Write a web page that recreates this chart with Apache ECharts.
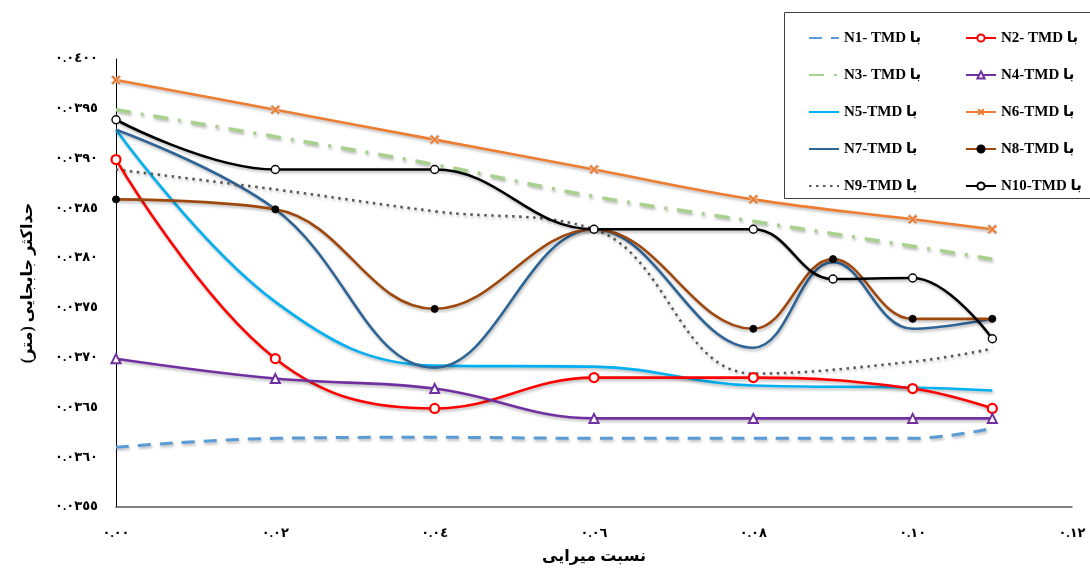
<!DOCTYPE html>
<html>
<head>
<meta charset="utf-8">
<script src="https://cdn.jsdelivr.net/npm/echarts@6/dist/echarts.min.js"></script>
<style>
  html, body { margin: 0; padding: 0; background: #fff; }
  #chart { width: 1090px; height: 570px; }
</style>
</head>
<body>
<div id="chart"></div>
<script>
// Damping ratios (x) used by each series
const dampingRatio = [0, 0.02, 0.04, 0.06, 0.08, 0.10, 0.11];
const dampingRatioFine = [0, 0.02, 0.04, 0.06, 0.08, 0.09, 0.10, 0.11];

// Maximum displacement (m)
const n1 = [0.03610, 0.03619, 0.03620, 0.03619, 0.03619, 0.03619, 0.03629];
const n2 = [0.03899, 0.03699, 0.03649, 0.03680, 0.03680, 0.03669, 0.03649];
const n3 = [0.03949, 0.03922, 0.03894, 0.03862, 0.03837, 0.03812, 0.03799];
const n4 = [0.03699, 0.03679, 0.03669, 0.03639, 0.03639, 0.03639, 0.03639];
const n5 = [0.03929, 0.03756, 0.03692, 0.03691, 0.03672, 0.03670, 0.03667];
const n6 = [0.03979, 0.03949, 0.03919, 0.03889, 0.03859, 0.03839, 0.03829];
const n7 = [0.03929, 0.03849, 0.03690, 0.03829, 0.03710, 0.03796, 0.03729, 0.03739];
const n8 = [0.03859, 0.03849, 0.03749, 0.03829, 0.03729, 0.03799, 0.03739, 0.03739];
const n9 = [0.03889, 0.03869, 0.03847, 0.03829, 0.03684, 0.03696, 0.03709];
const n10 = [0.03939, 0.03889, 0.03889, 0.03829, 0.03829, 0.03779, 0.03780, 0.03719];

const seriesNames = [
  'N1- TMD با', 'N2- TMD با', 'N3- TMD با', 'N4-TMD با', 'N5-TMD با',
  'N6-TMD با', 'N7-TMD با', 'N8-TMD با', 'N9-TMD با', 'N10-TMD با'
];

const xTitle = 'نسبت میرایی';
const yTitle = '\u200Fحداکثر جابجایی (متر)\u200F';

const toArabicDigits = s => s.replace(/\d/g, d => String.fromCharCode(0x0660 + Number(d)));
const pairs = (xs, ys) => ys.map((y, i) => [xs[i], y]);

const FONT = "'Liberation Serif', 'DejaVu Sans', serif";
const crossPath = 'path://M0,2 L2,0 L5,3 L8,0 L10,2 L7,5 L10,8 L8,10 L5,7 L2,10 L0,8 L3,5 Z';
const shadow = { shadowColor: 'rgba(0,0,0,0.28)', shadowBlur: 3, shadowOffsetX: 1, shadowOffsetY: 2 };

function line(name, xs, ys, color, opts) {
  opts = opts || {};
  return Object.assign({
    name: name,
    type: 'line',
    smooth: 0.4,
    data: pairs(xs, ys),
    symbol: 'none',
    lineStyle: Object.assign({ color: color, width: 2.6, type: 'solid' }, shadow, opts.lineStyle || {}),
    itemStyle: Object.assign({ color: color }, opts.itemStyle || {}),
    emphasis: { disabled: true },
    z: opts.z || 2
  }, opts.extra || {});
}

const series = [
  line(seriesNames[0], dampingRatio, n1, '#5B9BD5', { lineStyle: { type: [13, 9], width: 3 } }),
  line(seriesNames[1], dampingRatio, n2, '#FF0000', {
    extra: { symbol: 'circle', symbolSize: 9, showSymbol: true },
    itemStyle: { color: '#fff', borderColor: '#FF0000', borderWidth: 2.2 }, z: 4
  }),
  line(seriesNames[2], dampingRatio, n3, '#A9D18E', { lineStyle: { type: [15, 10, 3, 10], width: 3.5 } }),
  line(seriesNames[3], dampingRatio, n4, '#7030A0', {
    extra: { symbol: 'triangle', symbolSize: 9, showSymbol: true },
    itemStyle: { color: '#fff', borderColor: '#7030A0', borderWidth: 2 }, z: 4
  }),
  line(seriesNames[4], dampingRatio, n5, '#00B0F0'),
  line(seriesNames[5], dampingRatio, n6, '#ED7D31', {
    extra: { symbol: crossPath, symbolSize: 10, showSymbol: true },
    itemStyle: { color: '#ED7D31', borderColor: '#d9d9d9', borderWidth: 1 }, z: 4
  }),
  line(seriesNames[6], dampingRatioFine, n7, '#2E6496'),
  line(seriesNames[7], dampingRatioFine, n8, '#9E480E', {
    extra: { symbol: 'circle', symbolSize: 7, showSymbol: true },
    itemStyle: { color: '#000', borderColor: '#000', borderWidth: 1 }, z: 4
  }),
  line(seriesNames[8], dampingRatio, n9, '#595959', { lineStyle: { type: [2.5, 4.5], width: 2.6 } }),
  line(seriesNames[9], dampingRatioFine, n10, '#000000', {
    extra: { symbol: 'circle', symbolSize: 8, showSymbol: true },
    itemStyle: { color: '#fff', borderColor: '#000', borderWidth: 1.4 }, z: 4
  })
];

// Series drawn without markers show only their line in the legend
const plainLegend = name => ({ name: name, itemStyle: { opacity: 0 } });

const legendText = { fontFamily: FONT, fontWeight: 'bold', fontSize: 15, color: '#000', lineHeight: 18 };
const legendBase = {
  orient: 'vertical',
  top: 24,
  itemWidth: 30,
  itemHeight: 9,
  itemGap: 19,
  textStyle: legendText,
  selectedMode: false
};

const chart = echarts.init(document.getElementById('chart'), null, { renderer: 'canvas' });
chart.setOption({
  animation: false,
  backgroundColor: '#fff',
  grid: { left: 116, right: 18, top: 59, bottom: 61 },
  graphic: [{
    type: 'rect',
    shape: { x: 784.5, y: 12.5, width: 320, height: 186 },
    style: { fill: '#fff', stroke: '#404040', lineWidth: 1 },
    z: 0
  }],
  legend: [
    Object.assign({
      left: 803,
      data: [plainLegend(seriesNames[0]), plainLegend(seriesNames[2]), plainLegend(seriesNames[4]),
             plainLegend(seriesNames[6]), plainLegend(seriesNames[8])]
    }, legendBase),
    Object.assign({
      left: 960,
      data: [seriesNames[1], seriesNames[3],
             { name: seriesNames[5], itemStyle: { color: '#ED7D31', borderWidth: 0 } },
             seriesNames[7], seriesNames[9]]
    }, legendBase)
  ],
  xAxis: {
    type: 'value',
    min: 0,
    max: 0.12,
    interval: 0.02,
    name: xTitle,
    nameLocation: 'middle',
    nameGap: 42,
    nameTextStyle: { fontFamily: FONT, fontWeight: 'bold', fontSize: 16, color: '#000' },
    axisLine: { show: true, lineStyle: { color: '#595959', width: 1.5 } },
    axisTick: { show: false },
    splitLine: { show: false },
    axisLabel: {
      margin: 20,
      fontFamily: FONT, fontWeight: 'bold', fontSize: 13, color: '#000',
      formatter: v => toArabicDigits(v.toFixed(2))
    }
  },
  yAxis: {
    type: 'value',
    min: 0.0355,
    max: 0.0400,
    interval: 0.0005,
    name: yTitle,
    nameLocation: 'middle',
    nameGap: 80,
    nameTextStyle: { fontFamily: FONT, fontWeight: 'bold', fontSize: 16, color: '#000' },
    axisLine: { show: true, lineStyle: { color: '#000', width: 1 } },
    axisTick: { show: false },
    splitLine: { show: false },
    axisLabel: {
      margin: 18,
      fontFamily: FONT, fontWeight: 'bold', fontSize: 13, color: '#000',
      formatter: v => toArabicDigits(v.toFixed(4))
    }
  },
  series: series
});
</script>
</body>
</html>
